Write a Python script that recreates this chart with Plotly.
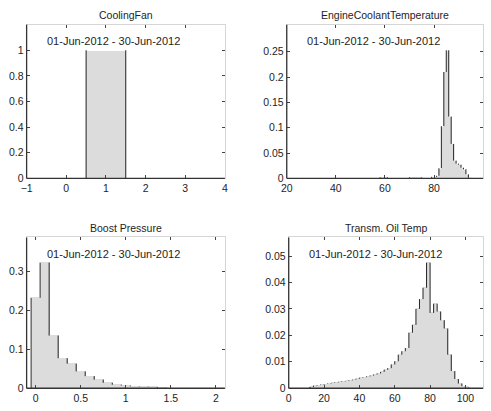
import plotly.graph_objects as go

# ---------------- data ----------------
titles = ["CoolingFan", "EngineCoolantTemperature", "Boost Pressure", "Transm. Oil Temp"]
date_label = "01-Jun-2012 - 30-Jun-2012"

fan_start, fan_width = 0.5, 1.0
fan_heights = [1.0]

coolant_start, coolant_width = 58, 1
coolant_heights = [0.002, 0.002, 0.002,
                   0, 0, 0, 0, 0, 0, 0, 0, 0,
                   0.002, 0.002, 0.002, 0.002, 0.002,
                   0.001, 0.001, 0.001, 0.001,
                   0.003, 0.003, 0.005, 0.020, 0.103, 0.210, 0.253, 0.122,
                   0.068, 0.035, 0.029, 0.027, 0.021, 0.018, 0.008, 0.001]

boost_start, boost_width = -0.05, 0.1
boost_heights = [0.232, 0.322, 0.135, 0.077, 0.063, 0.043, 0.031, 0.022,
                 0.014, 0.009, 0.007, 0.005, 0.004, 0.003, 0.001]

oil_start, oil_width = 12, 2
oil_heights = [0.0005, 0.0010, 0.0012, 0.0014, 0.0016, 0.0018, 0.0020, 0.0022,
               0.0024, 0.0026, 0.0028, 0.0030, 0.0033, 0.0036, 0.0040, 0.0042,
               0.0045, 0.0048, 0.0052, 0.0056, 0.0062, 0.0070, 0.0076, 0.0090,
               0.0102, 0.0127, 0.0140, 0.0152, 0.0210, 0.0240, 0.0300, 0.0337,
               0.0380, 0.0475, 0.0285, 0.0320, 0.0290, 0.0257, 0.0226, 0.0127,
               0.0065, 0.0035, 0.0018, 0.0008, 0.0003]

x_ranges = [[-1, 4], [20, 100], [-0.1, 2.1], [0, 110]]
x_ticks = [[-1, 0, 1, 2, 3, 4], [20, 40, 60, 80, 100], [0, 0.5, 1, 1.5, 2],
           [0, 20, 40, 60, 80, 100]]
y_ticks = [[0, 0.2, 0.4, 0.6, 0.8, 1], [0, 0.05, 0.1, 0.15, 0.2, 0.25],
           [0, 0.1, 0.2, 0.3], [0, 0.01, 0.02, 0.03, 0.04, 0.05]]
y_ticktext = [["0", "0.2", "0.4", "0.6", "0.8", "1"],
              ["0", "0.05", "0.1", "0.15", "0.2", "0.25"],
              ["0", "0.1", "0.2", "0.3"],
              ["0", "0.01", "0.02", "0.03", "0.04", "0.05"]]

panels = [(fan_start, fan_width, fan_heights),
          (coolant_start, coolant_width, coolant_heights),
          (boost_start, boost_width, boost_heights),
          (oil_start, oil_width, oil_heights)]

# ---------------- layout geometry (pixels) ----------------
W, H = 491, 411
boxes = [(21, 223, 25, 181), (286, 486, 25, 181),
         (21, 223, 241, 394), (288, 486, 241, 394)]

FONT = "Liberation Sans, Arial, sans-serif"
TXT = "#1e1e1e"
FILL = "#dcdcdc"

fig = go.Figure()
layout = dict(width=W, height=H, margin=dict(l=0, r=0, t=0, b=0),
              paper_bgcolor="white", plot_bgcolor="white", showlegend=False,
              barmode="overlay", bargap=0, font=dict(family=FONT, size=10, color=TXT))
annotations = []
shapes = []

for i, ((start, width, heights), (x0, x1, y0, y1)) in enumerate(zip(panels, boxes)):
    n = i + 1
    xa = "x" if n == 1 else f"x{n}"
    ya = "y" if n == 1 else f"y{n}"
    edges = [start + k * width for k in range(len(heights) + 1)]
    centers = [(edges[k] + edges[k + 1]) / 2 for k in range(len(heights))]
    fig.add_trace(go.Bar(x=centers, y=heights, width=[width] * len(heights),
                         marker=dict(color=FILL, line=dict(width=0)),
                         xaxis=xa, yaxis=ya))
    # vertical step edges (dark), derived from the histogram heights
    padded = [0] + list(heights) + [0]
    vx, vy = [], []
    for k, e in enumerate(edges):
        a, b = padded[k], padded[k + 1]
        if a != b:
            vx += [e, e, None]
            vy += [a, b, None]
    fig.add_trace(go.Scatter(x=vx, y=vy, mode="lines", line=dict(color="#222222", width=1),
                             xaxis=xa, yaxis=ya, hoverinfo="skip", connectgaps=False))
    ymax = 1.2 * max(heights)
    axx = "xaxis" if n == 1 else f"xaxis{n}"
    axy = "yaxis" if n == 1 else f"yaxis{n}"
    common = dict(showgrid=False, zeroline=False, showline=True, linecolor="#d6d6d6",
                  linewidth=1, mirror="ticks", ticks="inside", ticklen=3, tickwidth=1,
                  tickcolor="#444444", tickfont=dict(family=FONT, size=10.5, color=TXT))
    layout[axx] = dict(common, domain=[x0 / W, x1 / W], range=x_ranges[i],
                       tickmode="array", tickvals=x_ticks[i], anchor=ya)
    layout[axy] = dict(common, domain=[1 - y1 / H, 1 - y0 / H], range=[0, ymax],
                       tickmode="array", tickvals=y_ticks[i], ticktext=y_ticktext[i],
                       anchor=xa)
    # dark left & bottom axis lines
    shapes.append(dict(type="line", xref=f"{xa} domain", yref=f"{ya} domain",
                       x0=0, x1=0, y0=0, y1=1, line=dict(color="#333333", width=1.3)))
    shapes.append(dict(type="line", xref=f"{xa} domain", yref=f"{ya} domain",
                       x0=0, x1=1, y0=0, y1=0, line=dict(color="#333333", width=1.3)))
    # title
    annotations.append(dict(text=titles[i], xref="paper", yref="paper",
                            x=(x0 + x1) / 2 / W, y=1 - (y0 - 10) / H,
                            xanchor="center", yanchor="middle", showarrow=False,
                            font=dict(family=FONT, size=10.5, color=TXT)))
    # date range label
    annotations.append(dict(text=date_label, xref=f"{xa} domain", yref=f"{ya} domain",
                            x=0.095, y=0.893, xanchor="left", yanchor="middle",
                            showarrow=False, font=dict(family=FONT, size=11, color=TXT)))

layout["annotations"] = annotations
layout["shapes"] = shapes
fig.update_layout(**layout)
fig.write_html("out.html")
